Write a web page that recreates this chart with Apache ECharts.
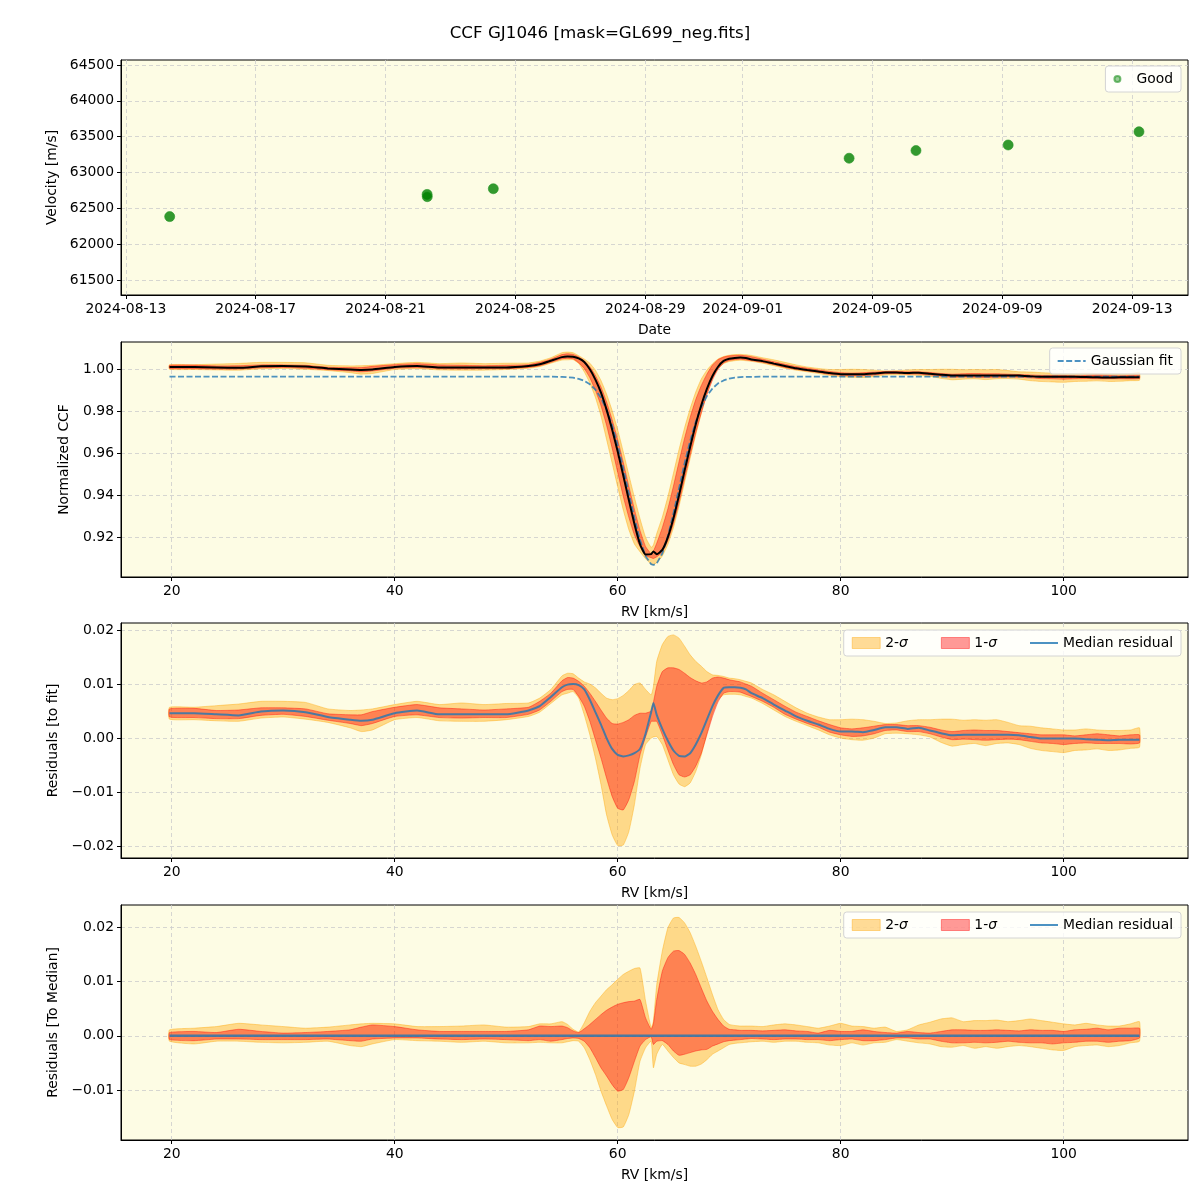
<!DOCTYPE html>
<html lang="en">
<head>
  <meta charset="UTF-8">
  <title>CCF GJ1046</title>
  <script src="https://cdn.jsdelivr.net/npm/echarts/dist/echarts.min.js"></script>
  <style>body { margin: 0; background: #fff; }</style>
</head>
<body>
  <div id="main" style="width: 1200px;height:1200px;"></div>

  <script type="text/javascript">
    // Velocity time series (top panel)
    const obsDates = ['2024-08-14 08:24', '2024-08-22 06:43', '2024-08-22 06:50', '2024-08-24 07:40',
      '2024-09-04 06:43', '2024-09-06 08:10', '2024-09-09 04:19', '2024-09-13 05:02'];
    const obsVelocity = [62384, 62694, 62662, 62773, 63199, 63306, 63384, 63569];
    const dateTicks = ['2024-08-13', '2024-08-17', '2024-08-21', '2024-08-25', '2024-08-29',
      '2024-09-01', '2024-09-05', '2024-09-09', '2024-09-13'];

    // RV grid [km/s]
    const rv = [19.8, 22, 24, 26, 28, 30, 32, 34, 36, 37, 38, 40, 42, 44, 46, 48, 50, 52, 53, 54,
      55, 55.5, 56, 56.5, 57, 57.5, 58, 58.5, 59, 59.5, 60, 60.5, 61, 61.5, 62, 62.5, 63, 63.2, 63.5, 64,
      64.5, 65, 65.5, 66, 66.5, 67, 67.5, 68, 68.5, 69, 69.5, 70, 70.5, 71, 71.5, 72,
      73, 74, 75, 76, 77, 78, 79, 80, 81, 82, 83, 84, 85, 86, 87, 88, 89, 90, 91, 92, 93, 94, 95, 96, 97,
      98, 99, 100, 101, 102, 103, 104, 105, 106, 106.8];
    const rvTicks = [20, 40, 60, 80, 100];

    // Gaussian fit of the CCF
    const gaussFit = [0.9964, 0.9964, 0.9964, 0.9964, 0.9964, 0.9964, 0.9964, 0.9964, 0.9964, 0.9964,
      0.9964, 0.9964, 0.9964, 0.9964, 0.9964, 0.9964, 0.9964, 0.9964, 0.9964, 0.9964,
      0.9963, 0.9961, 0.9959, 0.9953, 0.9944, 0.9928, 0.9902, 0.9863, 0.9807, 0.9732,
      0.9638, 0.9527, 0.9408, 0.9290, 0.9186, 0.9109, 0.9071, 0.9067, 0.9075, 0.9122,
      0.9205, 0.9313, 0.9432, 0.9551, 0.9658, 0.9749, 0.9820, 0.9872, 0.9908, 0.9932,
      0.9946, 0.9955, 0.9959, 0.9962, 0.9963, 0.9963,
      0.9964, 0.9964, 0.9964, 0.9964, 0.9964, 0.9964, 0.9964, 0.9964, 0.9964, 0.9964,
      0.9964, 0.9964, 0.9964, 0.9964, 0.9964, 0.9964, 0.9964, 0.9964, 0.9964, 0.9964,
      0.9964, 0.9964, 0.9964, 0.9964, 0.9964, 0.9964, 0.9964, 0.9964, 0.9964, 0.9964,
      0.9964, 0.9964, 0.9964, 0.9964, 0.9964];

    // Residuals to the fit: median, 1-sigma and 2-sigma envelopes
    const resMedian = [0.0046, 0.0046, 0.0044, 0.0042, 0.0049, 0.0051, 0.0048, 0.0039, 0.0034, 0.0032,
      0.0034, 0.0046, 0.0051, 0.0044, 0.0044, 0.0044, 0.0044, 0.0051, 0.0059, 0.0076,
      0.0094, 0.0099, 0.0100, 0.0098, 0.0090, 0.0071, 0.0048, 0.0025, 0.0000, -0.0020,
      -0.0031, -0.0034, -0.0032, -0.0028, -0.0020, 0.0008, 0.0048, 0.0065, 0.0043, 0.0017,
      -0.0005, -0.0023, -0.0033, -0.0034, -0.0028, -0.0012, 0.0009, 0.0034, 0.0059, 0.0079,
      0.0093, 0.0094, 0.0094, 0.0093, 0.0090, 0.0083,
      0.0074, 0.0062, 0.0051, 0.0040, 0.0032, 0.0025, 0.0017, 0.0012, 0.0012, 0.0011,
      0.0015, 0.0020, 0.0020, 0.0017, 0.0019, 0.0014, 0.0009, 0.0005, 0.0006, 0.0006,
      0.0006, 0.0006, 0.0006, 0.0005, 0.0002, -0.0001, -0.0001, -0.0001, -0.0001, -0.0002,
      -0.0003, -0.0004, -0.0003, -0.0003, -0.0003];
    const resHi1 = [0.0054, 0.0055, 0.0051, 0.0052, 0.0056, 0.0056, 0.0054, 0.0045, 0.0043, 0.0043,
      0.0049, 0.0057, 0.0062, 0.0056, 0.0054, 0.0052, 0.0054, 0.0057, 0.0068, 0.0083,
      0.0106, 0.0112, 0.0111, 0.0105, 0.0096, 0.0083, 0.0068, 0.0052, 0.0037, 0.0027,
      0.0026, 0.0029, 0.0034, 0.0042, 0.0046, 0.0046, 0.0050, 0.0066, 0.0096, 0.0123,
      0.0130, 0.0130, 0.0127, 0.0120, 0.0112, 0.0106, 0.0102, 0.0104, 0.0111, 0.0113,
      0.0111, 0.0108, 0.0106, 0.0104, 0.0100, 0.0096,
      0.0083, 0.0071, 0.0059, 0.0048, 0.0040, 0.0032, 0.0025, 0.0019, 0.0017, 0.0019,
      0.0022, 0.0025, 0.0025, 0.0023, 0.0023, 0.0020, 0.0015, 0.0012, 0.0014, 0.0015,
      0.0014, 0.0014, 0.0012, 0.0010, 0.0008, 0.0006, 0.0006, 0.0006, 0.0004, 0.0006,
      0.0008, 0.0006, 0.0004, 0.0006, 0.0006];
    const resLo1 = [0.0039, 0.0038, 0.0036, 0.0036, 0.0042, 0.0044, 0.0040, 0.0033, 0.0027, 0.0023,
      0.0027, 0.0040, 0.0043, 0.0038, 0.0037, 0.0038, 0.0038, 0.0044, 0.0052, 0.0068,
      0.0086, 0.0090, 0.0090, 0.0077, 0.0059, 0.0031, -0.0003, -0.0037, -0.0074, -0.0108,
      -0.0130, -0.0133, -0.0114, -0.0080, -0.0031, 0.0002, 0.0031, 0.0031, 0.0031, 0.0006,
      -0.0022, -0.0049, -0.0068, -0.0072, -0.0068, -0.0052, -0.0028, 0.0006, 0.0040, 0.0067,
      0.0083, 0.0086, 0.0086, 0.0085, 0.0081, 0.0077,
      0.0068, 0.0057, 0.0044, 0.0035, 0.0027, 0.0020, 0.0011, 0.0006, 0.0003, 0.0004,
      0.0008, 0.0014, 0.0015, 0.0012, 0.0012, 0.0008, 0.0002, -0.0003, -0.0002, -0.0003,
      -0.0004, -0.0003, -0.0002, -0.0003, -0.0006, -0.0009, -0.0010, -0.0012, -0.0010, -0.0009,
      -0.0010, -0.0010, -0.0010, -0.0011, -0.0009];
    const resHi2 = [0.0057, 0.0057, 0.0060, 0.0063, 0.0068, 0.0068, 0.0066, 0.0054, 0.0051, 0.0052,
      0.0054, 0.0062, 0.0068, 0.0062, 0.0065, 0.0062, 0.0064, 0.0065, 0.0074, 0.0090,
      0.0115, 0.0120, 0.0119, 0.0111, 0.0104, 0.0100, 0.0093, 0.0083, 0.0074, 0.0071,
      0.0073, 0.0079, 0.0088, 0.0099, 0.0102, 0.0090, 0.0080, 0.0095, 0.0142, 0.0173,
      0.0188, 0.0191, 0.0185, 0.0170, 0.0154, 0.0142, 0.0133, 0.0123, 0.0117, 0.0116,
      0.0114, 0.0111, 0.0110, 0.0108, 0.0105, 0.0102,
      0.0090, 0.0080, 0.0068, 0.0056, 0.0046, 0.0039, 0.0034, 0.0034, 0.0035, 0.0034,
      0.0031, 0.0027, 0.0028, 0.0032, 0.0034, 0.0034, 0.0035, 0.0035, 0.0033, 0.0034,
      0.0033, 0.0034, 0.0029, 0.0023, 0.0022, 0.0019, 0.0017, 0.0015, 0.0015, 0.0017,
      0.0015, 0.0014, 0.0014, 0.0015, 0.0019];
    const resLo2 = [0.0035, 0.0034, 0.0032, 0.0031, 0.0037, 0.0039, 0.0035, 0.0029, 0.0019, 0.0012,
      0.0015, 0.0034, 0.0038, 0.0032, 0.0031, 0.0031, 0.0034, 0.0040, 0.0048, 0.0064,
      0.0080, 0.0083, 0.0086, 0.0074, 0.0043, 0.0006, -0.0037, -0.0086, -0.0142, -0.0179,
      -0.0199, -0.0198, -0.0173, -0.0123, -0.0056, -0.0012, 0.0000, 0.0002, 0.0003, -0.0012,
      -0.0040, -0.0068, -0.0085, -0.0090, -0.0083, -0.0062, -0.0031, 0.0009, 0.0046, 0.0071,
      0.0080, 0.0081, 0.0081, 0.0080, 0.0077, 0.0074,
      0.0064, 0.0052, 0.0040, 0.0031, 0.0023, 0.0015, 0.0006, 0.0000, -0.0003, -0.0004,
      0.0000, 0.0008, 0.0009, 0.0008, 0.0006, 0.0002, -0.0008, -0.0015, -0.0012, -0.0010,
      -0.0014, -0.0010, -0.0009, -0.0012, -0.0019, -0.0023, -0.0025, -0.0027, -0.0023, -0.0022,
      -0.0020, -0.0023, -0.0022, -0.0019, -0.0017];

    // Residuals to the median CCF: envelopes (median itself is zero)
    const medHi2 = [0.0011, 0.0014, 0.0017, 0.0023, 0.0020, 0.0017, 0.0014, 0.0016, 0.0020, 0.0022,
      0.0023, 0.0022, 0.0017, 0.0017, 0.0018, 0.0020, 0.0016, 0.0017, 0.0022, 0.0022,
      0.0026, 0.0021, 0.0012, 0.0007, 0.0024, 0.0045, 0.0061, 0.0073, 0.0085, 0.0094,
      0.0104, 0.0113, 0.0119, 0.0124, 0.0125, 0.0064, 0.0015, 0.0027, 0.0094, 0.0156,
      0.0199, 0.0217, 0.0218, 0.0208, 0.0190, 0.0165, 0.0137, 0.0107, 0.0076, 0.0048,
      0.0030, 0.0021, 0.0019, 0.0018, 0.0018, 0.0018,
      0.0017, 0.0020, 0.0022, 0.0020, 0.0017, 0.0014, 0.0018, 0.0023, 0.0018, 0.0017,
      0.0014, 0.0016, 0.0008, 0.0011, 0.0020, 0.0025, 0.0031, 0.0033, 0.0026, 0.0028,
      0.0028, 0.0029, 0.0026, 0.0028, 0.0031, 0.0028, 0.0025, 0.0022, 0.0020, 0.0023,
      0.0020, 0.0018, 0.0018, 0.0022, 0.0026];
    const medHi1 = [0.0006, 0.0008, 0.0006, 0.0012, 0.0008, 0.0005, 0.0006, 0.0008, 0.0011, 0.0016,
      0.0020, 0.0017, 0.0011, 0.0008, 0.0008, 0.0008, 0.0008, 0.0011, 0.0018, 0.0017,
      0.0018, 0.0015, 0.0009, 0.0006, 0.0013, 0.0021, 0.0030, 0.0039, 0.0047, 0.0053,
      0.0058, 0.0061, 0.0063, 0.0064, 0.0067, 0.0033, 0.0012, 0.0022, 0.0067, 0.0119,
      0.0144, 0.0156, 0.0157, 0.0150, 0.0134, 0.0113, 0.0088, 0.0064, 0.0045, 0.0030,
      0.0018, 0.0012, 0.0011, 0.0010, 0.0010, 0.0010,
      0.0009, 0.0010, 0.0011, 0.0009, 0.0008, 0.0005, 0.0010, 0.0008, 0.0008, 0.0011,
      0.0008, 0.0006, 0.0005, 0.0008, 0.0006, 0.0005, 0.0008, 0.0011, 0.0011, 0.0010,
      0.0010, 0.0011, 0.0010, 0.0009, 0.0011, 0.0010, 0.0010, 0.0008, 0.0011, 0.0012,
      0.0014, 0.0011, 0.0014, 0.0014, 0.0014];
    const medLo1 = [-0.0007, -0.0009, -0.0006, -0.0006, -0.0007, -0.0007, -0.0007, -0.0006, -0.0009, -0.0010,
      -0.0006, -0.0004, -0.0004, -0.0006, -0.0007, -0.0006, -0.0007, -0.0009, -0.0007, -0.0010,
      -0.0007, -0.0005, -0.0004, -0.0005, -0.0010, -0.0022, -0.0040, -0.0059, -0.0074, -0.0090,
      -0.0102, -0.0099, -0.0077, -0.0047, -0.0019, -0.0007, -0.0002, -0.0016, -0.0010, -0.0009,
      -0.0016, -0.0028, -0.0036, -0.0034, -0.0031, -0.0028, -0.0026, -0.0025, -0.0019, -0.0015,
      -0.0011, -0.0009, -0.0008, -0.0007, -0.0006, -0.0005,
      -0.0006, -0.0007, -0.0006, -0.0006, -0.0007, -0.0007, -0.0009, -0.0007, -0.0006, -0.0009,
      -0.0009, -0.0007, -0.0004, -0.0004, -0.0006, -0.0006, -0.0010, -0.0013, -0.0013, -0.0012,
      -0.0013, -0.0012, -0.0010, -0.0012, -0.0013, -0.0013, -0.0015, -0.0013, -0.0012, -0.0010,
      -0.0010, -0.0012, -0.0010, -0.0009, -0.0004];
    const medLo2 = [-0.0010, -0.0015, -0.0010, -0.0010, -0.0012, -0.0013, -0.0012, -0.0010, -0.0018, -0.0020,
      -0.0015, -0.0007, -0.0009, -0.0010, -0.0012, -0.0010, -0.0013, -0.0013, -0.0012, -0.0013,
      -0.0013, -0.0011, -0.0009, -0.0010, -0.0022, -0.0044, -0.0071, -0.0102, -0.0129, -0.0154,
      -0.0169, -0.0168, -0.0145, -0.0102, -0.0047, -0.0022, -0.0010, -0.0059, -0.0034, -0.0016,
      -0.0028, -0.0040, -0.0050, -0.0053, -0.0056, -0.0056, -0.0052, -0.0044, -0.0034, -0.0028,
      -0.0022, -0.0016, -0.0014, -0.0013, -0.0012, -0.0011,
      -0.0010, -0.0012, -0.0010, -0.0010, -0.0012, -0.0013, -0.0017, -0.0018, -0.0013, -0.0017,
      -0.0013, -0.0012, -0.0007, -0.0010, -0.0013, -0.0015, -0.0020, -0.0021, -0.0018, -0.0023,
      -0.0020, -0.0023, -0.0020, -0.0018, -0.0020, -0.0023, -0.0026, -0.0027, -0.0020, -0.0018,
      -0.0017, -0.0020, -0.0018, -0.0013, -0.0010];

    const FONT = 'DejaVu Sans';
    const FS = 13.9;
    const BG = 'rgb(253,252,228)';
    const FILL2 = 'rgba(255,165,0,0.4)';
    const FILL1 = 'rgba(255,0,0,0.4)';
    const BLUE = 'rgba(31,119,180,0.8)';
    const EPOCH = Date.UTC(2024, 7, 13);

    // days since 2024-08-13
    function dayOf(s) {
      const [d, t = '00:00'] = s.split(' ');
      const [Y, M, D] = d.split('-').map(Number);
      const [h, m] = t.split(':').map(Number);
      return (Date.UTC(Y, M - 1, D, h, m) - EPOCH) / 864e5;
    }
    const dateTickDays = dateTicks.map(dayOf);

    const pairs = ys => rv.map((x, i) => [x, ys[i]]);
    const add = (a, b) => a.map((v, i) => v + b[i]);
    const minus = v => v.toFixed(2).replace('-', '\u2212');

    // CCF = fit + residual
    const ccfMedian = add(gaussFit, resMedian);
    const ccfLo1 = add(gaussFit, resLo1), ccfHi1 = add(gaussFit, resHi1);
    const ccfLo2 = add(gaussFit, resLo2), ccfHi2 = add(gaussFit, resHi2);

    // filled band between lo and hi (fill_between look-alike)
    function band(name, k, lo, hi, fill) {
      return {
        type: 'custom', name, xAxisIndex: k, yAxisIndex: k, silent: true,
        itemStyle: { color: fill },
        data: [[rv[0], lo[0]]],
        renderItem: (params, api) => {
          const upper = rv.map((x, i) => api.coord([x, hi[i]]));
          const lower = rv.map((x, i) => api.coord([x, lo[i]])).reverse();
          return {
            type: 'polygon',
            shape: { points: upper.concat(lower), smooth: 0.15 },
            style: { fill, stroke: fill, lineWidth: 1 }
          };
        }
      };
    }

    const gridLine = { show: true, lineStyle: { color: '#cccccc', type: [4, 3], width: 0.8 } };
    function axisBase(gi, ticks, fmt) {
      return {
        type: 'value', gridIndex: gi,
        axisLine: { show: true, onZero: false, lineStyle: { color: '#000', width: 1 } },
        axisTick: { show: true, length: 4, customValues: ticks, lineStyle: { color: '#000' } },
        axisLabel: { customValues: ticks, formatter: fmt, color: '#000', fontFamily: FONT, fontSize: FS, margin: 7 },
        splitLine: gridLine,
        nameLocation: 'middle',
        nameTextStyle: { color: '#000', fontFamily: FONT, fontSize: FS }
      };
    }
    const rvAxis = gi => Object.assign(axisBase(gi, rvTicks, v => String(v)),
      { min: 15.45, max: 111.15, name: 'RV [km/s]', nameGap: 28 });

    const tops = [60, 342, 623, 905];
    const grids = tops.map(t => ({
      left: 121, width: 1067, top: t, height: 235, show: true,
      backgroundColor: BG, borderColor: '#000', borderWidth: 1
    }));

    const LINE_ICON = 'path://M0,0h28v2h-28z';
    const DASH_ICON = 'path://M0,0h6v2h-6z M8.5,0h6v2h-6z M17,0h6v2h-6z M25.5,0h2.5v2h-2.5z';
    const legendBase = {
      right: 19, orient: 'horizontal', backgroundColor: 'rgba(255,255,255,0.8)',
      borderColor: '#d4d4d4', borderWidth: 1, borderRadius: 3, padding: [6, 8],
      itemWidth: 28, itemHeight: 11, itemGap: 33,
      textStyle: { fontFamily: FONT, fontSize: FS, color: '#000',
        rich: { i: { fontStyle: 'italic', fontFamily: FONT, fontSize: FS, color: '#000' } } },
      formatter: n => n.replace('\u03c3', '{i|\u03c3}')
    };
    const sigmaLegend = top => Object.assign({}, legendBase, {
      top,
      data: [
        { name: '2-\u03c3', icon: 'rect', itemStyle: { color: FILL2, borderColor: FILL2, borderWidth: 1 } },
        { name: '1-\u03c3', icon: 'rect', itemStyle: { color: FILL1, borderColor: FILL1, borderWidth: 1 } },
        { name: 'Median residual', icon: LINE_ICON, itemStyle: { color: BLUE } }
      ]
    });

    const myChart = echarts.init(document.getElementById('main'));

    const options = {
      animation: false,
      backgroundColor: '#fff',
      title: {
        text: 'CCF GJ1046 [mask=GL699_neg.fits]', left: 'center', top: 20,
        textStyle: { fontFamily: FONT, fontSize: 16.7, fontWeight: 'normal', color: '#000' }
      },
      grid: grids,
      legend: [
        Object.assign({}, legendBase, { top: 66, itemHeight: 6,
          data: [{ name: 'Good', icon: 'circle', itemStyle: { color: 'rgba(0,128,0,0.5)' } }] }),
        Object.assign({}, legendBase, { top: 348,
          data: [{ name: 'Gaussian fit', icon: DASH_ICON, itemStyle: { color: BLUE } }] }),
        sigmaLegend(630),
        sigmaLegend(912)
      ],
      xAxis: [
        Object.assign(axisBase(0, dateTickDays, v => {
          const k = dateTickDays.findIndex(d => Math.abs(d - v) < 1e-6);
          return k < 0 ? '' : dateTicks[k];
        }), { min: -0.15, max: 32.72, name: 'Date', nameGap: 28 }),
        rvAxis(1), rvAxis(2), rvAxis(3)
      ],
      yAxis: [
        Object.assign(axisBase(0, [61500, 62000, 62500, 63000, 63500, 64000, 64500], v => String(v)),
          { min: 61290, max: 64570, name: 'Velocity [m/s]', nameGap: 61 }),
        Object.assign(axisBase(1, [0.92, 0.94, 0.96, 0.98, 1.00], v => v.toFixed(2)),
          { min: 0.9010, max: 1.0129, name: 'Normalized CCF', nameGap: 50 }),
        Object.assign(axisBase(2, [-0.02, -0.01, 0, 0.01, 0.02], minus),
          { min: -0.0222, max: 0.0213, name: 'Residuals [to fit]', nameGap: 60 }),
        Object.assign(axisBase(3, [-0.01, 0, 0.01, 0.02], minus),
          { min: -0.0192, max: 0.0241, name: 'Residuals [To Median]', nameGap: 59 })
      ],
      series: [
        {
          name: 'Good', type: 'scatter', xAxisIndex: 0, yAxisIndex: 0, symbolSize: 10,
          itemStyle: { color: 'rgb(0,128,0)', borderColor: 'rgba(40,150,40,0.8)', borderWidth: 1 },
          data: obsDates.map((d, i) => [dayOf(d), obsVelocity[i]])
        },
        // CCF panel
        band('ccf 2s', 1, ccfLo2, ccfHi2, FILL2),
        band('ccf 1s', 1, ccfLo1, ccfHi1, FILL1),
        {
          name: 'Gaussian fit', type: 'line', xAxisIndex: 1, yAxisIndex: 1, symbol: 'none',
          data: pairs(gaussFit), lineStyle: { color: BLUE, width: 1.8, type: [6, 2.5] }, itemStyle: { color: BLUE }
        },
        {
          name: 'CCF median', type: 'line', xAxisIndex: 1, yAxisIndex: 1, symbol: 'none', smooth: 0.15,
          data: pairs(ccfMedian), lineStyle: { color: '#000', width: 2 }
        },
        // residuals to fit
        band('2-\u03c3', 2, resLo2, resHi2, FILL2),
        band('1-\u03c3', 2, resLo1, resHi1, FILL1),
        {
          name: 'Median residual', type: 'line', xAxisIndex: 2, yAxisIndex: 2, symbol: 'none', smooth: 0.15,
          data: pairs(resMedian), lineStyle: { color: BLUE, width: 2 }, itemStyle: { color: BLUE }
        },
        // residuals to median
        band('2-\u03c3', 3, medLo2, medHi2, FILL2),
        band('1-\u03c3', 3, medLo1, medHi1, FILL1),
        {
          name: 'Median residual', type: 'line', xAxisIndex: 3, yAxisIndex: 3, symbol: 'none',
          data: rv.map(x => [x, 0]), lineStyle: { color: BLUE, width: 2.5 }, itemStyle: { color: BLUE }
        }
      ]
    };

    myChart.setOption(options);
  </script>
</body>
</html>
